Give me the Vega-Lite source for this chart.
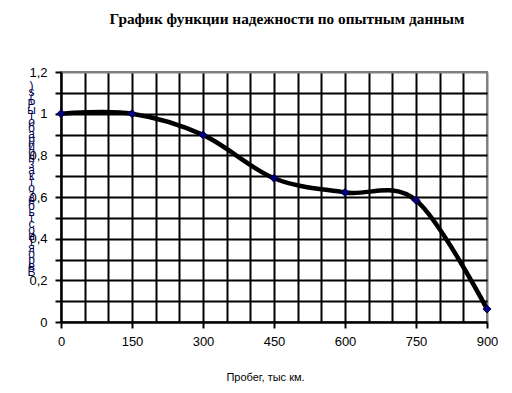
{
  "$schema": "https://vega.github.io/schema/vega-lite/v6.json",
  "autosize": "none",
  "width": 426,
  "height": 250,
  "padding": {"left": 61, "top": 72, "right": 25, "bottom": 71},
  "background": "white",
  "title": {
    "text": "График функции надежности по опытным данным",
    "font": "Liberation Serif",
    "fontSize": 15.3,
    "fontWeight": "bold",
    "color": "black",
    "anchor": "middle",
    "dx": 13,
    "offset": 39
  },
  "config": {
    "view": {"stroke": "#808080", "strokeWidth": 2},
    "axis": {"labelFont": "Liberation Sans", "titleFont": "Liberation Sans", "labelColor": "black", "titleColor": "black"}
  },
  "data": {
    "values": [
      {"probeg": 0, "p": 1.0},
      {"probeg": 150, "p": 1.0},
      {"probeg": 300, "p": 0.898},
      {"probeg": 450, "p": 0.69},
      {"probeg": 600, "p": 0.622},
      {"probeg": 750, "p": 0.584},
      {"probeg": 900, "p": 0.062}
    ]
  },
  "encoding": {
    "x": {
      "field": "probeg", "type": "quantitative",
      "scale": {"domain": [0, 900], "nice": false, "zero": true},
      "axis": {
        "values": [0,50,100,150,200,250,300,350,400,450,500,550,600,650,700,750,800,850,900],
        "labelExpr": "datum.value % 150 == 0 ? datum.label : ''",
        "labelOverlap": false,
        "grid": true,
        "gridColor": {"condition": {"test": "datum.value == 900", "value": "#808080"}, "value": "black"},
        "gridWidth": 2,
        "gridOpacity": 1,
        "domainColor": "black",
        "domainWidth": 2,
        "tickColor": {"condition": {"test": "datum.value % 150 != 0", "value": "transparent"}, "value": "black"},
        "tickWidth": 2,
        "tickSize": 6,
        "labelFontSize": 13,
        "labelPadding": 7,
        "labelFlush": false,
        "title": "Пробег, тыс км.",
        "titleFontSize": 11,
        "titleFontWeight": "normal",
        "titleX": 204,
        "titleY": 55,
        "titleBaseline": "middle",
        "titleAnchor": "start",
        "titleAlign": "center"
      }
    },
    "y": {
      "field": "p", "type": "quantitative",
      "scale": {"domain": [0, 1.2], "nice": false},
      "axis": {
        "values": [0,0.1,0.2,0.3,0.4,0.5,0.6,0.7,0.8,0.9,1,1.1,1.2],
        "labelExpr": "round(datum.value*10) % 2 == 0 ? replace(toString(round(datum.value*10)/10), '.', ',') : ''",
        "labelOverlap": false,
        "grid": true,
        "gridColor": {"condition": {"test": "datum.value == 1.2", "value": "#808080"}, "value": "black"},
        "gridWidth": 2,
        "gridOpacity": 1,
        "domainColor": "black",
        "domainWidth": 2,
        "tickColor": "black",
        "tickWidth": 2,
        "tickSize": 6,
        "labelFontSize": 13,
        "labelPadding": 8,
        "labelFlush": false,
        "title": [")", "s", "(", "P", " ", "ы", "т", "о", "б", "а", "р", " ", "й", "о", "н", "з", "а", "к", "т", "о", "з", "е", "б", " ", "ь", "т", "с", "о", "н", "т", "я", "о", "р", "е", "В"],
        "titleAngle": 0,
        "titleFontSize": 12,
        "titleFontWeight": "normal",
        "titleLineHeight": 6,
        "titleX": -30,
        "titleY": 8,
        "titleAlign": "center",
        "titleBaseline": "top",
        "titleColor": "#000050"
      }
    }
  },
  "layer": [
    {
      "mark": {"type": "line", "interpolate": "cardinal", "color": "black", "strokeWidth": 4.5}
    },
    {
      "mark": {"type": "point", "shape": "diamond", "filled": true, "size": 64, "color": "#000080", "opacity": 1, "stroke": "#000040", "strokeWidth": 1}
    }
  ]
}
